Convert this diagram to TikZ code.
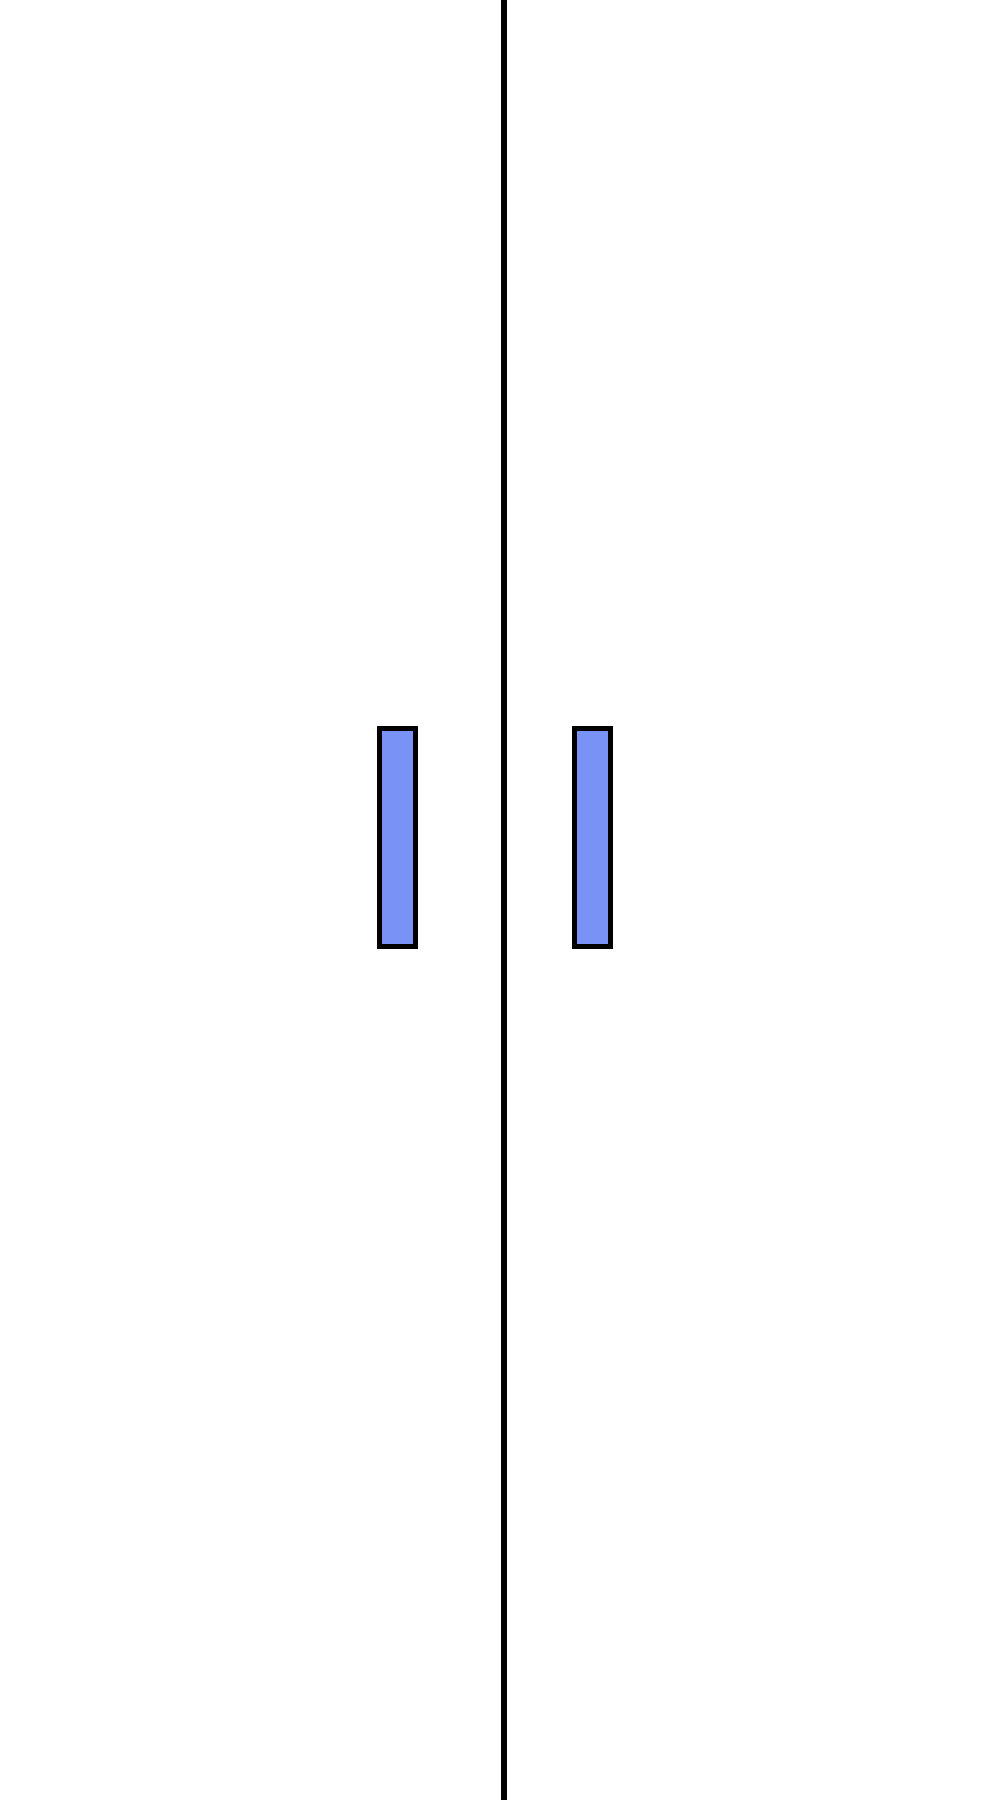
\documentclass[tikz,border=0pt]{standalone}
\usepackage{tikz}
\usetikzlibrary{positioning}
\definecolor{plateblue}{RGB}{120,146,246}

\begin{document}
\begin{tikzpicture}[
  plate/.style={draw, line width=1.4pt, fill=plateblue, minimum width=0.36cm, minimum height=2.18cm, inner sep=0pt}]

\useasboundingbox (0,0) rectangle (10,18);

% Asse
\coordinate (top) at (5.04,18);
\coordinate (bot) at (5.04,0);
\draw[line width=1.7pt] (top) -- (bot);

% Piastre
\node[plate] (lplate) at (3.975,9.625) {};
\node[plate, right=1.54cm of lplate] (rplate) {};

\end{tikzpicture}
\end{document}
